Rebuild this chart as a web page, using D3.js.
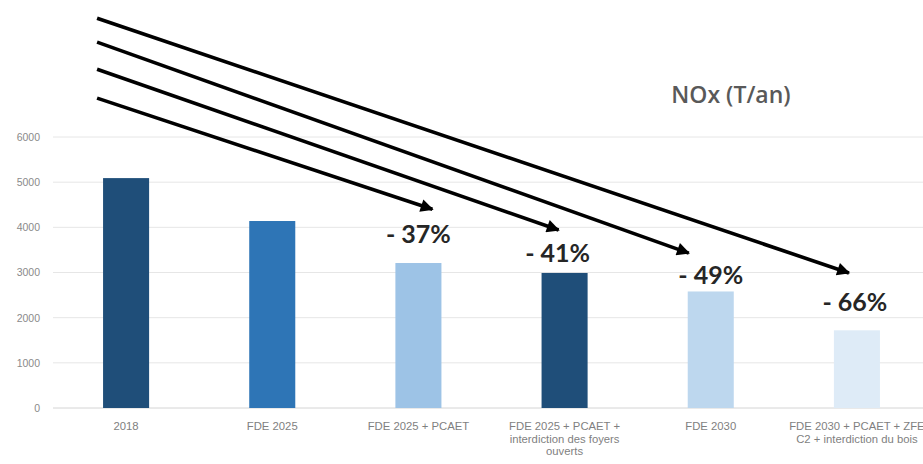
<!DOCTYPE html>
<html>
<head>
<meta charset="utf-8">
<script src="https://cdn.jsdelivr.net/npm/d3@7"></script>
<style>
  body { margin: 0; background: #fff; }
  svg { display: block; }
</style>
</head>
<body>
<svg id="chart"></svg>
<script>
// données
var categories = [
  "2018",
  "FDE 2025",
  "FDE 2025 + PCAET",
  "FDE 2025 + PCAET + interdiction des foyers ouverts",
  "FDE 2030",
  "FDE 2030 + PCAET + ZFE C2 + interdiction du bois"
];
var noxValues = [5090, 4140, 3210, 2990, 2580, 1720];
var barColors = ["#1f4e79", "#2e75b6", "#9dc3e6", "#1f4e79", "#bdd7ee", "#deebf7"];
var yTicks = [0, 1000, 2000, 3000, 4000, 5000, 6000];
var reductions = [37, 41, 49, 66];          // % vs 2018, for categories 2..5
var wrappedLabels = [
  ["2018"],
  ["FDE 2025"],
  ["FDE 2025 + PCAET"],
  ["FDE 2025 + PCAET +", "interdiction des foyers", "ouverts"],
  ["FDE 2030"],
  ["FDE 2030 + PCAET + ZFE", "C2 + interdiction du bois"]
];

var width = 923, height = 464;
var svg = d3.select("#chart")
    .attr("width", width)
    .attr("height", height);

var x = d3.scaleBand()
    .domain(categories)
    .range([53, 930])
    .paddingInner(0.685)
    .paddingOuter(0.3425);

var y = d3.scaleLinear()
    .domain([0, 6000])
    .range([408, 137]);

// grille
svg.append("g")
  .selectAll("line")
  .data(yTicks)
  .join("line")
    .attr("x1", 53)
    .attr("x2", width)
    .attr("y1", d => y(d))
    .attr("y2", d => y(d))
    .attr("stroke", d => d === 0 ? "#d4d4d4" : "#e6e6e6")
    .attr("stroke-width", 1);

// axe Y
var yAxis = svg.append("g")
    .attr("transform", "translate(40,0)")
    .call(d3.axisLeft(y).tickValues(yTicks).tickFormat(d3.format("d")).tickSize(0).tickPadding(0));
yAxis.select(".domain").remove();
yAxis.selectAll("text")
    .attr("fill", "#8a8a8a")
    .style("font-family", "'Liberation Sans', Arial, sans-serif")
    .style("font-size", "10.5px");

// barres
svg.append("g")
  .selectAll("rect")
  .data(noxValues)
  .join("rect")
    .attr("x", (d, i) => x(categories[i]))
    .attr("width", x.bandwidth())
    .attr("y", d => y(d))
    .attr("height", d => y(0) - y(d))
    .attr("fill", (d, i) => barColors[i]);

// libellés X
var xl = svg.append("g")
  .selectAll("text")
  .data(wrappedLabels)
  .join("text")
    .attr("x", (d, i) => x(categories[i]) + x.bandwidth() / 2)
    .attr("y", 430)
    .attr("text-anchor", "middle")
    .attr("fill", "#7f7f7f")
    .style("font-family", "'Liberation Sans', Arial, sans-serif")
    .style("font-size", "11.3px");
xl.selectAll("tspan")
  .data(d => d)
  .join("tspan")
    .attr("x", function() { return this.parentNode.getAttribute("x"); })
    .attr("dy", (d, i) => i === 0 ? 0 : 12.5)
    .text(d => d);

// titre
svg.append("text")
    .attr("x", 731)
    .attr("y", 103)
    .attr("text-anchor", "middle")
    .attr("fill", "#595959")
    .style("font-family", "'Open Sans', sans-serif")
    .style("font-weight", "600")
    .style("font-size", "23px")
    .text("NOx (T/an)");

// flèches
svg.append("defs").append("marker")
    .attr("id", "head")
    .attr("viewBox", "0 0 10 10")
    .attr("refX", 9)
    .attr("refY", 5)
    .attr("markerWidth", 4.2)
    .attr("markerHeight", 3.6)
    .attr("orient", "auto")
  .append("path")
    .attr("d", "M0,0 L10,5 L0,10 Z")
    .attr("fill", "#000");

var arrowStart = [6860, 7500, 8100, 8630];   // hauteur de départ (échelle Y)
var arrowEnd = [4400, 3940, 3430, 2990];     // pointe au-dessus des barres
var arrowShift = [14, -6, -22, -8];
var x0 = x(categories[0]) + x.bandwidth() / 2 - 29;

svg.append("g")
  .selectAll("line")
  .data(reductions)
  .join("line")
    .attr("x1", x0)
    .attr("y1", (d, i) => y(arrowStart[i]))
    .attr("x2", (d, i) => x(categories[i + 2]) + x.bandwidth() / 2 + arrowShift[i])
    .attr("y2", (d, i) => y(arrowEnd[i]))
    .attr("stroke", "#000")
    .attr("stroke-width", 3.6)
    .attr("marker-end", "url(#head)");

// pourcentages
var labelShift = [0, -7, 0, -2];
var labelGap = [20, 11, 7, 19];
svg.append("g")
  .selectAll("text")
  .data(reductions)
  .join("text")
    .attr("x", (d, i) => x(categories[i + 2]) + x.bandwidth() / 2 + labelShift[i])
    .attr("y", (d, i) => y(noxValues[i + 2]) - labelGap[i])
    .attr("text-anchor", "middle")
    .attr("fill", "#262626")
    .style("font-family", "Lato, 'Open Sans', sans-serif")
    .style("font-weight", "bold")
    .style("font-size", "25px")
    .text(d => "- " + d + "%");
</script>
</body>
</html>
